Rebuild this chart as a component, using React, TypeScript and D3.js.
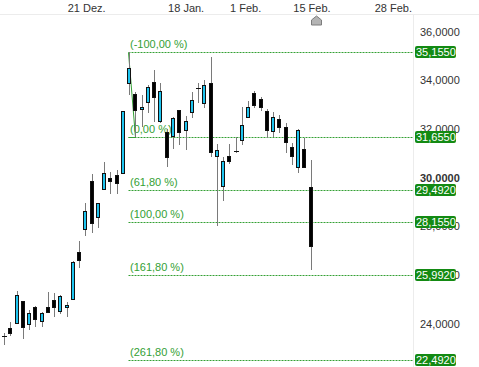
import React from 'react';
import * as d3 from 'd3';

// daily candles
const opens = [
  23.48, 23.81, 24.01, 24.92, 23.97, 24.68, 24.11, 24.68, 24.96, 24.52,
  24.67, 24.99, 26.93, 27.88, 29.85, 28.36, 29.52, 30.0, 30.1, 30.17,
  33.87, 33.43, 32.81, 33.11, 33.94, 32.32, 31.88, 31.7, 32.77, 31.95,
  32.7, 33.66, 33.05, 33.87, 30.88, 29.65, 30.88, 31.1, 31.54, 32.47,
  33.48, 33.22, 32.74, 31.92, 32.4, 32.06, 31.26, 30.44, 31.16, 29.62,
];
const highs = [
  23.6, 24.05, 25.33, 24.93, 24.55, 24.72, 24.47, 25.29, 25.25, 25.16,
  24.89, 26.55, 27.39, 28.95, 30.14, 28.95, 30.65, 30.23, 30.3, 32.75,
  35.155, 33.52, 33.39, 33.8, 34.4, 33.87, 31.99, 32.5, 32.78, 32.53,
  33.52, 33.87, 34.01, 34.94, 31.37, 30.83, 31.36, 31.67, 32.88, 33.15,
  33.55, 33.32, 32.8, 32.7, 32.57, 32.23, 31.4, 31.98, 31.61, 30.72,
];
const lows = [
  23.11, 23.48, 23.97, 23.36, 23.73, 23.86, 23.86, 24.45, 24.27, 24.38,
  24.27, 24.97, 26.28, 27.6, 27.73, 27.91, 29.5, 29.32, 29.32, 30.15,
  33.39, 31.655, 32.09, 32.64, 32.28, 32.25, 30.44, 31.17, 31.33, 31.13,
  32.43, 33.05, 32.84, 30.83, 28.0, 29.04, 30.54, 31.02, 31.33, 32.45,
  32.84, 32.74, 31.61, 31.65, 31.84, 30.99, 30.51, 30.17, 30.4, 26.19,
];
const closes = [
  23.48, 23.6, 25.16, 23.85, 24.44, 24.18, 24.44, 24.48, 24.68, 25.12,
  24.75, 26.53, 26.6, 28.63, 28.14, 28.94, 30.17, 29.85, 29.76, 32.73,
  34.49, 32.77, 32.9, 33.71, 33.31, 33.55, 30.83, 32.43, 31.88, 32.32,
  33.18, 33.66, 33.8, 31.06, 31.15, 30.69, 30.69, 31.1, 32.16, 32.88,
  32.98, 32.91, 31.95, 32.5, 32.06, 31.47, 30.88, 31.95, 30.42, 27.18,
];

const dateLabels = ['21 Dez.', '18 Jan.', '1 Feb.', '15 Feb.', '28 Feb.'];
const datePositions = [13.2, 29.1, 38.6, 49.2, 62.2];
const markerPosition = 49.85;

const priceTicks = [24, 26, 28, 30, 32, 34, 36];

// retracement drawn from the high (candle 20) to the low (candle 21)
const fibLevels = [-100, 0, 61.8, 100, 161.8, 261.8];
const fibHigh = 35.155;
const fibLow = 31.655;
const fibHighIdx = 20;
const fibLowIdx = 21;

const W = 479;
const H = 367;
const plotRight = 413;

const GREEN = '#34a034';
const BADGE = '#138a13';
const CYAN = '#1ec4ef';

const fmt = (v: number, d: number) => v.toFixed(d).replace('.', ',');

export default function App() {
  const x = d3.scaleLinear().domain([0, 49]).range([4, 310.7]);
  const y = d3.scaleLinear().domain([24, 36]).range([323.5, 31.5]);

  const px = (v: number) => Math.round(v) + 0.5;

  const fib = fibLevels.map((p) => ({
    p,
    v: fibLow - (p / 100) * (fibHigh - fibLow),
  }));

  const fx0 = px(x(fibHighIdx)) - 1;
  const fx1 = px(x(fibLowIdx));

  return (
    <div style={{ position: 'absolute', left: 0, top: 0 }}>
      <svg width={W} height={H} style={{ display: 'block', fontFamily: 'Liberation Sans, Arial, sans-serif' }}>
        <rect width={W} height={H} fill="#fff" />
        {/* frame lines */}
        <line x1={0} x2={W} y1={14.5} y2={14.5} stroke="#ececec" />
        <line x1={plotRight + 0.5} x2={plotRight + 0.5} y1={15} y2={H} stroke="#ececec" />

        {/* fibonacci lines and labels */}
        {fib.map((f) => (
          <g key={f.p}>
            <line
              x1={fx0}
              x2={plotRight}
              y1={px(y(f.v))}
              y2={px(y(f.v))}
              stroke={GREEN}
              strokeDasharray="2,1"
            />
            <text x={130} y={Math.round(y(f.v)) - 4} fontSize={11} fill={GREEN}>
              {`(${fmt(f.p, 2)} %)`}
            </text>
          </g>
        ))}
        <line x1={fx0} y1={px(y(fibHigh))} x2={fx1} y2={px(y(fibLow))} stroke={GREEN} />
        <line x1={fx0} y1={px(y(fibLow))} x2={fx1} y2={px(y(fibLow))} stroke={GREEN} />

        {/* candles */}
        {opens.map((o, i) => {
          const c = closes[i];
          const cx = px(x(i));
          const up = c > o;
          const yt = Math.round(y(Math.max(o, c)));
          const yb = Math.round(y(Math.min(o, c)));
          const doji = yb - yt < 2;
          return (
            <g key={i}>
              <line x1={cx} x2={cx} y1={Math.round(y(highs[i]))} y2={Math.round(y(lows[i]))} stroke="#7a7a7a" />
              {doji ? (
                <line x1={cx - 2.5} x2={cx + 2.5} y1={yt + 0.5} y2={yt + 0.5} stroke="#111" />
              ) : (
                <rect
                  x={cx - 2}
                  y={yt + 0.5}
                  width={3}
                  height={yb - yt}
                  fill={up ? CYAN : '#000'}
                  stroke="#111"
                />
              )}
            </g>
          );
        })}

        {/* right price axis */}
        {priceTicks.map((t) => (
          <text
            key={t}
            x={420}
            y={y(t) + 4}
            fontSize={11}
            fill="#333"
            fontWeight={t === 30 ? 'bold' : 'normal'}
          >
            {fmt(t, 4)}
          </text>
        ))}
        {fib.map((f) => (
          <g key={'b' + f.p}>
            <rect x={415} y={Math.round(y(f.v)) - 6} width={41} height={12} rx={2} fill={BADGE} />
            <text x={416} y={Math.round(y(f.v)) + 4} fontSize={11} fill="#fff">
              {fmt(f.v, 4)}
            </text>
          </g>
        ))}

        {/* top date axis */}
        {dateLabels.map((d, i) => (
          <text key={d} x={x(datePositions[i])} y={12} fontSize={11} fill="#333" textAnchor="middle">
            {d}
          </text>
        ))}
        <path
          d={`M${px(x(markerPosition)) - 5},25 V20 L${px(x(markerPosition))},16 L${px(x(markerPosition)) + 5},20 V25 Z`}
          fill="#b4b4b4"
          stroke="#7d7d7d"
        />
      </svg>
    </div>
  );
}
